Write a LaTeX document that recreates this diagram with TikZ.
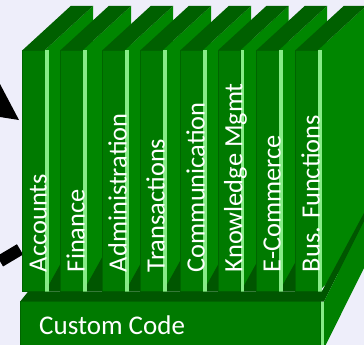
\documentclass[tikz,border=0pt]{standalone}
\usepackage{fontspec}
\setmainfont{Carlito}
\definecolor{bgc}{RGB}{238,238,250}
\definecolor{frontc}{RGB}{0,122,0}
\definecolor{edgec}{RGB}{0,100,0}
\definecolor{topc}{RGB}{0,96,0}
\definecolor{sidec}{RGB}{0,134,0}
\definecolor{lightc}{RGB}{135,235,135}
\definecolor{darkc}{RGB}{0,86,0}
\definecolor{basesidec}{RGB}{0,128,0}
\begin{document}
\begin{tikzpicture}[x=1pt,y=-1pt,
  lbl/.style={rotate=90,anchor=base west,inner sep=0pt,text=white,font=\fontsize{26.4}{30}\selectfont},
  basetext/.style={anchor=base west,inner sep=0pt,text=white,font=\fontsize{27}{30}\selectfont},
  frontface/.style={fill=frontc,draw=edgec,line width=0.7pt},
  sideface/.style={fill=sidec},
  topface/.style={fill=topc},
  shadowface/.style={fill=darkc},
  highlight/.style={fill=lightc}]
\useasboundingbox (0,0) rectangle (364,345);
\clip (0,0) rectangle (364,345);
\fill[bgc] (0,0) rectangle (364,345);
% black arrow parts entering from the left
\fill[black] (0,84) -- (19,120) -- (0,117) -- cycle;
\coordinate (barA) at (0,261.3);
\coordinate (barB) at (20,249.4);
\draw[line width=12pt] (barA) -- (barB);
% slabs
\foreach \fl/\nx/\t [count=\i] in {22.7/60.7/Accounts,60.7/102.7/Finance,102.7/140.7/Administration,140.7/180.7/Transactions,180.7/218.3/Communication,218.3/256.7/Knowledge Mgmt,256.7/295.7/E-Commerce,295.7/321.7/Bus. Functions}{
  \fill[sideface] (\fl+22.3,50) -- (\fl+70.3,6) -- (\fl+70.3,247.7) -- (\fl+22.3,291.7) -- cycle;
  \fill[topface] (\fl,50) -- (\fl+22.3,50) -- (\fl+70.3,6) -- (\fl+48,6) -- cycle;
  \fill[shadowface] (\fl+22.3,291.7) -- (\nx,291.7) -- (\nx,{291.7-1.8*(\nx-\fl-22.3)}) -- cycle;
  \draw[frontface] (\fl,50) rectangle (\fl+22.3,291.7);
  \fill[highlight] (\fl+22.3,50) rectangle (\fl+25.8,291.7);
  \node[lbl] (s\i) at (\fl+24,272.3) {\t};
}
% base plate
\fill[shadowface] (20,301.7) -- (28,291.7) -- (321.7,291.7) -- (364,213) -- (364,221.7) -- (324,301.7) -- cycle;
\draw[frontface] (20,301.7) rectangle (320.7,350);
\fill[highlight] (320.7,301.7) rectangle (324,350);
\fill[fill=basesidec] (324,301.7) -- (364,221.7) -- (364,268) -- (325.7,345) -- (324,345) -- cycle;
\node[basetext] (cc) at (39,334.5) {Custom Code};
\end{tikzpicture}
\end{document}
